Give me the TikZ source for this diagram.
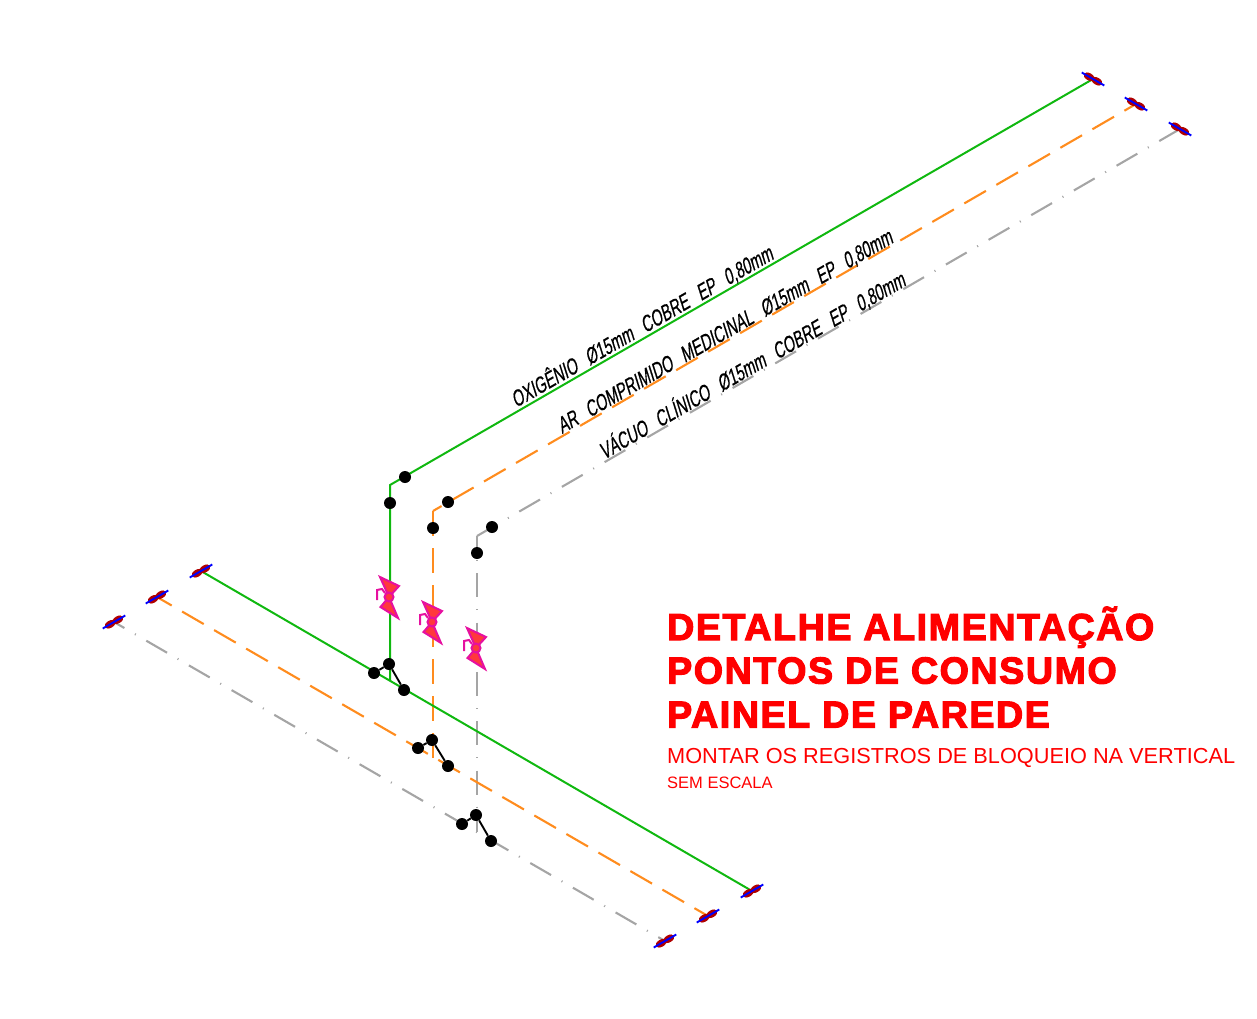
\documentclass[tikz,border=0pt]{standalone}
\usepackage{fontspec}
\setmainfont{Liberation Sans}
\newfontfamily\pipeFont[FakeSlant=0.22,FakeStretch=0.66,FakeBold=0.5]{Liberation Sans}
\newfontfamily\titleFont[FakeBold=3.2,LetterSpace=4.4]{Liberation Sans Bold}
\definecolor{oxygenColor}{RGB}{16,184,16}
\definecolor{airColor}{RGB}{255,140,30}
\definecolor{vacuumColor}{RGB}{165,165,165}
\definecolor{valveLine}{RGB}{230,16,160}
\definecolor{valveFill}{RGB}{255,56,60}
\definecolor{capLobe}{RGB}{176,0,0}
\tikzstyle{drawing} = [x = 1pt, y = -1pt]
\tikzstyle{oxygenPipe} = [color=oxygenColor, line width=2pt]
\tikzstyle{airPipe} = [color=airColor, line width=2.1pt, dash pattern=on 25pt off 12pt]
\tikzstyle{vacuumPipe} = [color=vacuumColor, line width=2.1pt, dash pattern=on 24pt off 12.15pt on 1pt off 12.15pt]
\tikzstyle{pipeDot} = [circle, fill=black, minimum size=12pt, inner sep=0pt]
\tikzstyle{tapLine} = [color=black, line width=1.9pt]
\tikzstyle{pipeText} = [font=\pipeFont\fontsize{22.5}{22.5}\selectfont, rotate=30, anchor=base west, inner sep=0pt]
\tikzstyle{titleText} = [color=red, font=\titleFont\fontsize{37.5}{37.5}\selectfont, anchor=base west, inner sep=0pt]
\tikzstyle{noteText} = [color=red, anchor=base west, inner sep=0pt]
\newcommand{\wordGap}{\hspace{11.5pt}}
\newcommand{\pipeCap}[2]{
  \begin{scope}[shift={(#1)}, rotate=#2]
    \fill [capLobe] (-4.5,0) ellipse [x radius=6pt, y radius=3.6pt];
    \fill [capLobe] (4.5,0) ellipse [x radius=6pt, y radius=3.6pt];
    \draw [blue, line width=1.9pt] (-13,0) -- (13,0);
  \end{scope}
}
\newcommand{\shutOffValve}[1]{
  \begin{scope}[shift={(#1)}, valveLine, line width=2pt]
    \filldraw [fill=valveFill] (0,0) -- (-9,-20) -- (10,-11) -- cycle;
    \filldraw [fill=valveFill] (0,0) -- (-8.5,10) -- (9,21) -- cycle;
    \filldraw [fill=valveFill] (0,0) circle [radius=4.5pt];
    \draw (-12,3) -- (-12,-7) -- (-7,-8) -- (-4,-4);
  \end{scope}
}
\begin{document}
\begin{tikzpicture}[drawing]
  \useasboundingbox (0,0) rectangle (1257,1018);

  \coordinate (oxygenCapTop) at (1093,79);
  \coordinate (oxygenBend) at (390,485);
  \coordinate (oxygenFoot) at (390,681);
  \coordinate (oxygenCapLeft) at (201,571);
  \coordinate (oxygenCapRight) at (752,891);
  \coordinate (oxygenValve) at (389,597);

  \coordinate (airCapTop) at (1136,104);
  \coordinate (airBend) at (433,511);
  \coordinate (airFoot) at (433,758);
  \coordinate (airCapLeft) at (157,597);
  \coordinate (airCapRight) at (708,916);
  \coordinate (airValve) at (432,622);

  \coordinate (vacuumCapTop) at (1180,129);
  \coordinate (vacuumBend) at (477,536);
  \coordinate (vacuumFoot) at (477,832);
  \coordinate (vacuumCapLeft) at (114,622);
  \coordinate (vacuumCapRight) at (665,941);
  \coordinate (vacuumValve) at (476,648);

  \draw [vacuumPipe] (vacuumCapTop) -- (vacuumBend);
  \draw [vacuumPipe, dash phase=12pt] (vacuumBend) -- (vacuumFoot);
  \draw [vacuumPipe, dash phase=12pt] (vacuumCapLeft) -- (vacuumCapRight);
  \draw [airPipe, dash phase=11.6pt] (airCapTop) -- (airBend);
  \draw [airPipe] (airBend) -- (airFoot);
  \draw [airPipe, dash phase=8pt] (airCapLeft) -- (airCapRight);
  \draw [oxygenPipe] (oxygenCapTop) -- (oxygenBend) -- (oxygenFoot);
  \draw [oxygenPipe] (oxygenCapLeft) -- (oxygenCapRight);

  \foreach \capName/\capAngle in {oxygenCapTop/-30, airCapTop/-30, vacuumCapTop/-30, oxygenCapLeft/30, airCapLeft/30, vacuumCapLeft/30, oxygenCapRight/30, airCapRight/30, vacuumCapRight/30} {
    \pipeCap{\capName}{\capAngle}
  }

  \shutOffValve{oxygenValve}
  \shutOffValve{airValve}
  \shutOffValve{vacuumValve}

  \node [pipeDot] (oxygenUpper) at (405,477) {};
  \node [pipeDot] (oxygenLower) at (390,503) {};
  \node [pipeDot] (airUpper) at (448,502) {};
  \node [pipeDot] (airLower) at (433,528) {};
  \node [pipeDot] (vacuumUpper) at (492,527) {};
  \node [pipeDot] (vacuumLower) at (477,553) {};

  \node [pipeDot] (oxygenTap) at (389,664) {};
  \node [pipeDot] (oxygenTapLeft) at (374,673) {};
  \node [pipeDot] (oxygenTapRight) at (404,690) {};
  \node [pipeDot] (airTap) at (432,740) {};
  \node [pipeDot] (airTapLeft) at (418,748) {};
  \node [pipeDot] (airTapRight) at (448,766) {};
  \node [pipeDot] (vacuumTap) at (476,815) {};
  \node [pipeDot] (vacuumTapLeft) at (462,824) {};
  \node [pipeDot] (vacuumTapRight) at (491,841) {};

  \draw [tapLine] (oxygenTapLeft) -- (oxygenTap) -- (oxygenTapRight);
  \draw [tapLine] (airTapLeft) -- (airTap) -- (airTapRight);
  \draw [tapLine] (vacuumTapLeft) -- (vacuumTap) -- (vacuumTapRight);

  \node [pipeText] (oxygenLabel) at (516,408) {OXIGÊNIO\wordGap Ø15mm\wordGap COBRE\wordGap EP\wordGap 0,80mm};
  \node [pipeText] (airLabel) at (562,434) {AR\wordGap COMPRIMIDO\wordGap MEDICINAL\wordGap Ø15mm\wordGap EP\wordGap 0,80mm};
  \node [pipeText] (vacuumLabel) at (604,460) {VÁCUO\wordGap CLÍNICO\wordGap Ø15mm\wordGap COBRE\wordGap EP\wordGap 0,80mm};

  \node [titleText] (titleOne) at (667,640) {DETALHE ALIMENTAÇÃO};
  \node [titleText] (titleTwo) at (667,683.5) {PONTOS DE CONSUMO};
  \node [titleText] (titleThree) at (667,727.5) {PAINEL DE PAREDE};
  \node [noteText, font=\fontsize{21.73}{22}\selectfont] (noteLabel) at (667,763) {MONTAR OS REGISTROS DE BLOQUEIO NA VERTICAL};
  \node [noteText, font=\fontsize{16.5}{16.5}\selectfont] (scaleLabel) at (667,788) {SEM ESCALA};
\end{tikzpicture}
\end{document}
